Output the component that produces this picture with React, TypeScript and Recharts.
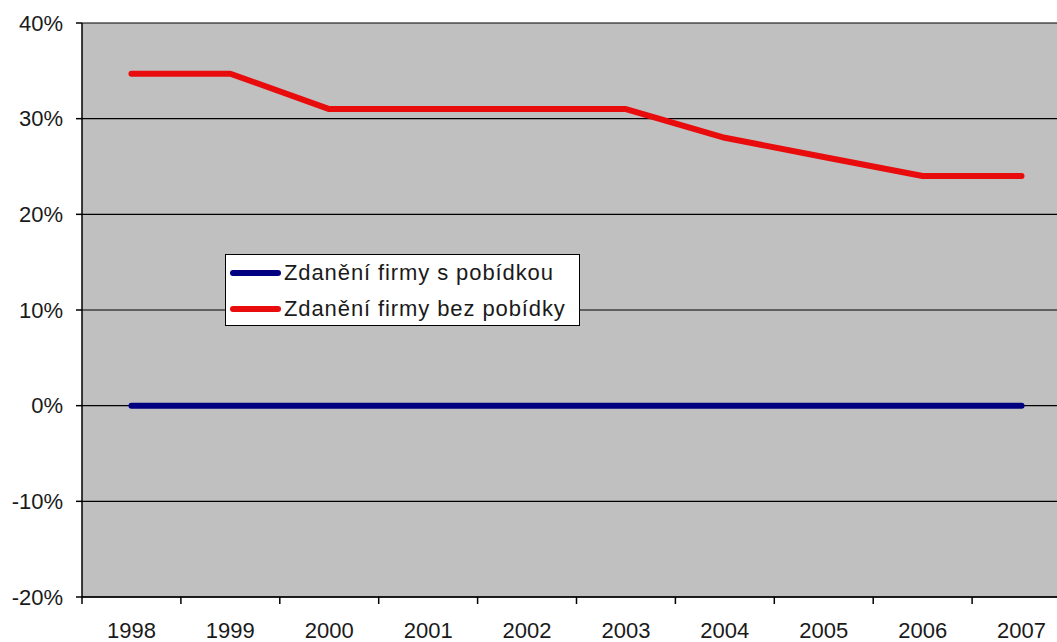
import React from 'react';
import { LineChart, Line, XAxis, YAxis, CartesianGrid, Legend } from 'recharts';

// Corporate taxation with / without investment incentive, 1998-2007
const years = ['1998', '1999', '2000', '2001', '2002', '2003', '2004', '2005', '2006', '2007'];
const withIncentive = [0, 0, 0, 0, 0, 0, 0, 0, 0, 0];
const withoutIncentive = [34.7, 34.7, 31, 31, 31, 31, 28, 26, 24, 24];
const yTicks = [-20, -10, 0, 10, 20, 30, 40];

const seriesNames = ['Zdanění firmy s pobídkou', 'Zdanění firmy bez pobídky'];

// layout constants
const CHART_W = 1080;
const CHART_H = 642;
const PLOT_LEFT = 82;
const RIGHT_MARGIN = 9;
const PLOT_W = CHART_W - PLOT_LEFT - RIGHT_MARGIN;
const HALF_BAND = PLOT_W / years.length / 2;
const FONT = '"Liberation Sans", Arial, sans-serif';
const TEXT = '#1a1a1a';

const data = years.map((year, i) => ({
  idx: i,
  year,
  s1: withIncentive[i],
  s2: withoutIncentive[i],
}));

// tick marks sit between the categories, label goes to the middle of the band on the right
const boundaryTicks = years.map((_, i) => i - 0.5);

const YearTick = (props: any) => {
  const { x, y, payload } = props;
  const label = years[Math.round(payload.value + 0.5)];
  if (label === undefined) return null;
  return (
    <text
      x={x + HALF_BAND}
      y={y}
      dy="0.71em"
      textAnchor="middle"
      fill={TEXT}
      fontSize={22}
      fontFamily={FONT}
    >
      {label}
    </text>
  );
};

const LegendBox = (props: any) => {
  const { payload = [] } = props;
  return (
    <div
      style={{
        width: 353,
        height: 70,
        background: '#fff',
        border: '1px solid #000',
        fontFamily: FONT,
        fontSize: 22,
        color: TEXT,
        boxSizing: 'content-box',
      }}
    >
      {payload.map((entry: any, i: number) => (
        <div key={i} style={{ display: 'flex', alignItems: 'center', height: 36 }}>
          <span
            style={{
              display: 'inline-block',
              width: 51,
              height: 6,
              borderRadius: 3,
              marginLeft: 4,
              marginRight: 3,
              background: entry.color,
            }}
          />
          <span style={{ letterSpacing: 0.9, whiteSpace: 'nowrap' }}>{entry.value}</span>
        </div>
      ))}
    </div>
  );
};

export default function App() {
  return (
    <div
      style={{
        position: 'absolute',
        left: 0,
        top: 0,
        width: 1057,
        height: 642,
        overflow: 'hidden',
        background: '#fff',
      }}
    >
      <LineChart
        width={CHART_W}
        height={CHART_H}
        data={data}
        margin={{ top: 23, right: RIGHT_MARGIN, bottom: 0, left: 0 }}
      >
        <CartesianGrid
          vertical={false}
          stroke="#000"
          strokeWidth={1.2}
          fill="#c0c0c0"
          fillOpacity={1}
        />
        <XAxis
          dataKey="idx"
          type="number"
          domain={[-0.5, years.length - 0.5]}
          ticks={boundaryTicks}
          interval={0}
          height={45}
          axisLine={{ stroke: '#000', strokeWidth: 1.5 }}
          tickLine={{ stroke: '#000', strokeWidth: 1.5 }}
          tickSize={7}
          tickMargin={18}
          tick={<YearTick />}
          allowDataOverflow
        />
        <YAxis
          type="number"
          domain={[-20, 40]}
          ticks={yTicks}
          width={PLOT_LEFT}
          axisLine={{ stroke: '#000', strokeWidth: 1.5 }}
          tickLine={{ stroke: '#000', strokeWidth: 1.5 }}
          tickSize={6}
          tickMargin={13}
          tickFormatter={(v: number) => `${v}%`}
          tick={{ fill: TEXT, fontSize: 22, fontFamily: FONT }}
        />
        <Legend
          layout="vertical"
          align="center"
          verticalAlign="middle"
          itemSorter="dataKey"
          wrapperStyle={{ left: 225, top: 254, width: 'auto', height: 'auto' }}
          content={<LegendBox />}
        />
        <Line
          type="linear"
          dataKey="s1"
          name={seriesNames[0]}
          stroke="#000080"
          strokeWidth={6}
          strokeLinecap="round"
          strokeLinejoin="round"
          dot={false}
          activeDot={false}
          isAnimationActive={false}
        />
        <Line
          type="linear"
          dataKey="s2"
          name={seriesNames[1]}
          stroke="#e80c0c"
          strokeWidth={6}
          strokeLinecap="round"
          strokeLinejoin="round"
          dot={false}
          activeDot={false}
          isAnimationActive={false}
        />
      </LineChart>
    </div>
  );
}
